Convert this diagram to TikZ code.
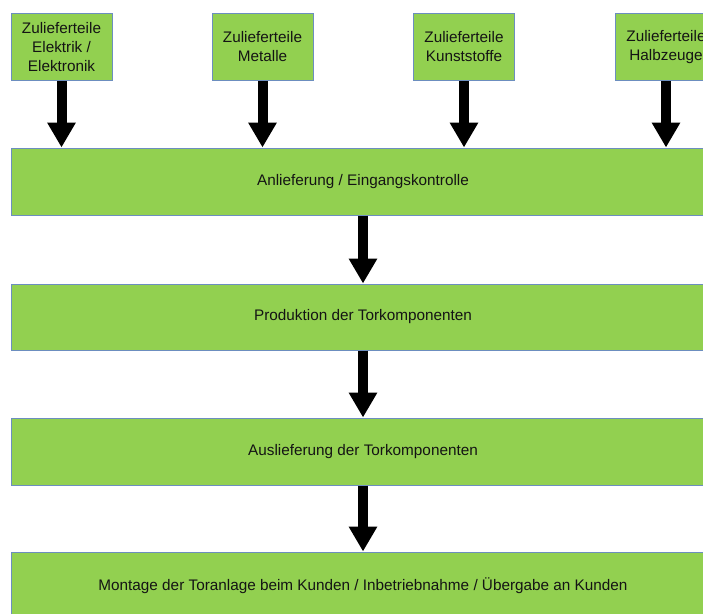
\documentclass[tikz,border=0pt]{standalone}
\usepackage{fontspec}
\setmainfont{Liberation Sans}
\usetikzlibrary{arrows.meta}
\definecolor{boxgreen}{RGB}{146,208,80}
\definecolor{boxedge}{RGB}{108,142,191}
\definecolor{txt}{RGB}{20,20,20}
\tikzset{
  topbox/.style={draw=boxedge, line width=1pt, fill=boxgreen, minimum width=101pt, minimum height=67pt,
    inner sep=0pt, align=center, text=txt, font=\fontsize{15.3}{19}\selectfont},
  bigbox/.style={draw=boxedge, line width=1pt, fill=boxgreen, minimum width=704pt, minimum height=67pt,
    inner sep=0pt, align=center, text=txt, font=\fontsize{15.3}{19}\selectfont},
  bigarrow/.style={line width=10pt, -{Triangle[length=25pt,width=27pt]}, black}
}
\begin{document}
\begin{tikzpicture}[x=1pt,y=-1pt]
\useasboundingbox (0,0) rectangle (703,613);
\clip (0,0) rectangle (703,613);
\node[topbox] (z1) at (61.5,47) {Zulieferteile\\Elektrik /\\Elektronik};
\node[topbox] (z2) at (262.5,47) {Zulieferteile\\Metalle};
\node[topbox] (z3) at (464,47) {Zulieferteile\\Kunststoffe};
\node[topbox] (z4) at (666,47) {Zulieferteile\\Halbzeuge};
\node[bigbox] (b1) at (363,181.5) {Anlieferung / Eingangskontrolle};
\node[bigbox, minimum height=66pt] (b2) at (363,317) {Produktion der Torkomponenten};
\node[bigbox] (b3) at (363,451.5) {Auslieferung der Torkomponenten};
\node[bigbox] (b4) at (363,585.5) {Montage der Toranlage beim Kunden / Inbetriebnahme / Übergabe an Kunden};
\foreach \n in {z1,z2,z3,z4}
  \draw[bigarrow] (\n.south) -- (\n.south |- b1.north);
\draw[bigarrow] (b1.south) -- (b2.north);
\draw[bigarrow] (b2.south) -- (b3.north);
\draw[bigarrow] (b3.south) -- (b4.north);
\end{tikzpicture}
\end{document}
